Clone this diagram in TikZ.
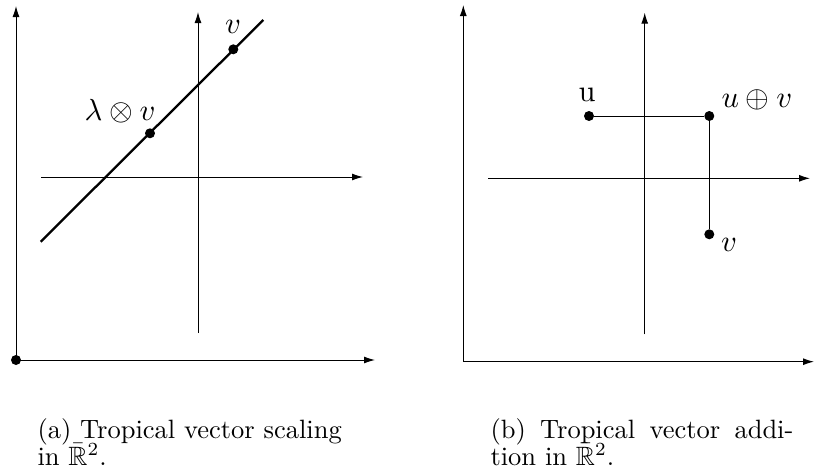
\documentclass[tikz,border=0pt]{standalone}
\usepackage{amssymb}
\usetikzlibrary{arrows.meta}
\begin{document}
\begin{tikzpicture}[x=1pt,y=-1pt,
    axis/.style={line width=1pt, -{Latex[length=11pt,width=7pt]}},
    tropline/.style={line width=2.3pt},
    seg/.style={line width=1pt},
    dot/.style={circle, fill, inner sep=0pt, minimum size=10pt},
    lbl/.style={scale=3.05, inner sep=0pt},
    caplbl/.style={scale=2.65, anchor=base west, inner sep=0pt}
  ]
  \useasboundingbox (0,0) rectangle (815,471);
  % (a) scaling
  \node[dot] (oa) at (16,360) {};
  \coordinate (oay) at (16,6);
  \coordinate (oax) at (375,360);
  \draw[axis] (oa.center) -- (oay);
  \draw[axis] (oa.center) -- (oax);
  \coordinate (ya0) at (198,333);
  \coordinate (ya1) at (198,12);
  \coordinate (xa0) at (41,177);
  \coordinate (xa1) at (363,177);
  \draw[axis] (ya0) -- (ya1);
  \draw[axis] (xa0) -- (xa1);
  \coordinate (ra0) at (40.7,241.7);
  \coordinate (ra1) at (263.3,20);
  \draw[tropline] (ra0) -- (ra1);
  \node[dot] (v) at (233.3,49.3) {};
  \node[dot] (lv) at (150,133.3) {};
  \node[lbl] (vlbl) at (233,27) {$v$};
  \node[lbl] (lvlbl) at (120,111) {$\lambda\otimes v$};
  % (b) addition
  \coordinate (ob) at (463.3,361.7);
  \coordinate (oby) at (463.3,5);
  \coordinate (obx) at (814,361.7);
  \draw[axis] (ob) -- (oby);
  \draw[axis] (ob) -- (obx);
  \coordinate (yb0) at (644.7,334.3);
  \coordinate (yb1) at (644.7,12.7);
  \coordinate (xb0) at (488.3,178.3);
  \coordinate (xb1) at (810,178.3);
  \draw[axis] (yb0) -- (yb1);
  \draw[axis] (xb0) -- (xb1);
  \node[dot] (u) at (589,116) {};
  \node[dot] (uv) at (709.3,116) {};
  \node[dot] (vb) at (709.3,234.3) {};
  \draw[seg] (u) -- (uv) -- (vb);
  \node[lbl] (ulbl) at (587,95) {u};
  \node[lbl] (uvlbl) at (757,100) {$u\oplus v$};
  \node[lbl] (vblbl) at (729,245) {$v$};
  % captions
  \node[caplbl] (capa1) at (37,438) {(a) Tropical vector scaling};
  \node[caplbl] (capa2) at (37,465) {in $\bar{\mathbb{R}}^2$.};
  \node[caplbl] (capb1) at (490,438) {\makebox[114.3pt][s]{(b) Tropical vector addi-}};
  \node[caplbl] (capb2) at (490,465) {tion in $\bar{\mathbb{R}}^2$.};
\end{tikzpicture}
\end{document}
